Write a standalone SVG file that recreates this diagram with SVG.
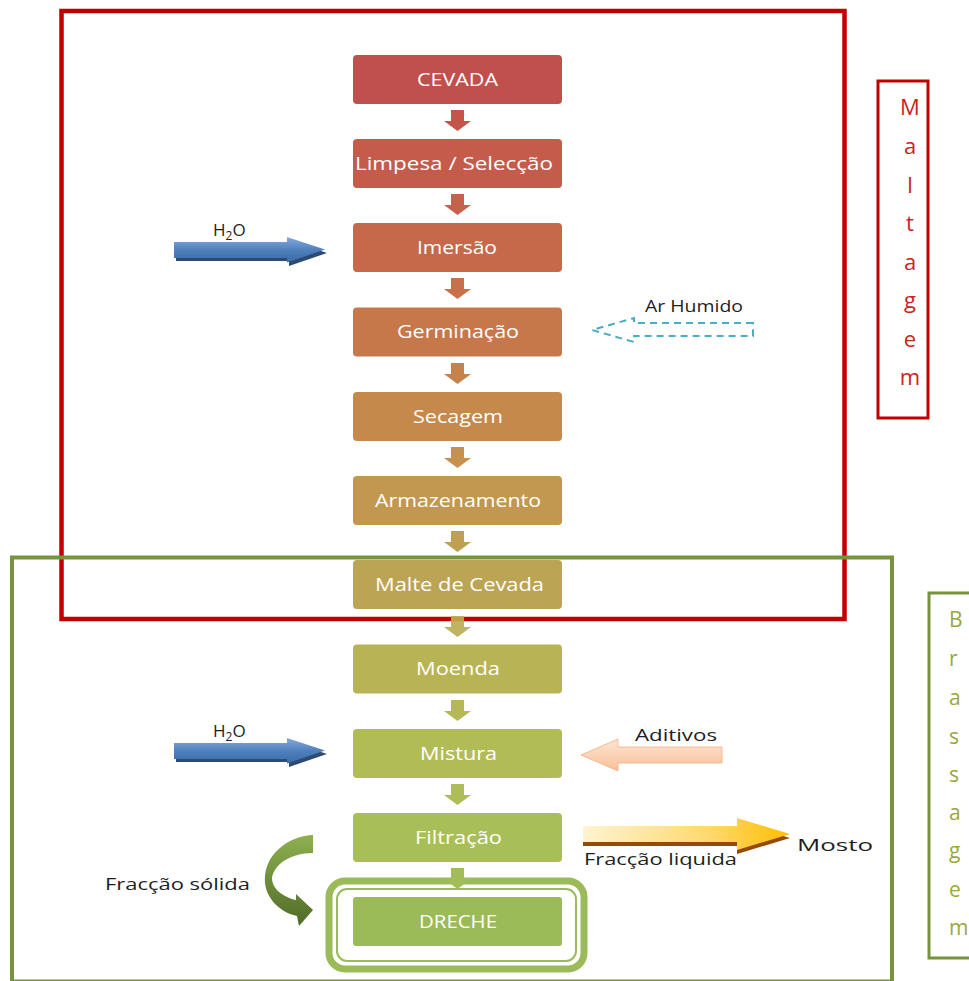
<svg xmlns="http://www.w3.org/2000/svg" width="969" height="981" viewBox="0 0 969 981">
<defs>
<style>
.node text{font-family:"Open Sans","Liberation Sans",sans-serif;font-size:17.5px;fill:#ffffff;text-anchor:middle}
.lbl{font-family:"Open Sans","Liberation Sans",sans-serif;font-size:17px;fill:#1e1e1e}
.vm{font-family:"Open Sans","Liberation Sans",sans-serif;font-size:22px;fill:#cc2222;text-anchor:middle}
.vb{font-family:"Open Sans","Liberation Sans",sans-serif;font-size:21px;fill:#9aa83a}
</style>
<linearGradient id="gBlue" x1="0" y1="0" x2="0" y2="1">
<stop offset="0" stop-color="#86aade"/><stop offset="0.5" stop-color="#4f81bd"/><stop offset="1" stop-color="#3c6aa6"/>
</linearGradient>
<linearGradient id="gPeach" x1="0" y1="0" x2="0" y2="1">
<stop offset="0" stop-color="#fde6d4"/><stop offset="1" stop-color="#f9bf98"/>
</linearGradient>
<linearGradient id="gGold" x1="0" y1="0" x2="1" y2="0">
<stop offset="0" stop-color="#fff4d0"/><stop offset="0.6" stop-color="#ffd970"/><stop offset="1" stop-color="#ffbf00"/>
</linearGradient>
<linearGradient id="gCurve" x1="0" y1="0" x2="0" y2="1">
<stop offset="0" stop-color="#8fb050"/><stop offset="1" stop-color="#4f6b26"/>
</linearGradient>
</defs>

<g id="frames">
<rect id="frame-maltagem" x="61.5" y="11" width="783" height="608" fill="none" stroke="#c00000" stroke-width="4.5"/>
<rect id="frame-brassagem" x="12" y="557.5" width="880" height="424" fill="none" stroke="#77933c" stroke-width="4"/>
</g>

<g id="label-maltagem">
<rect x="878" y="81" width="50" height="337" fill="#ffffff" stroke="#c00000" stroke-width="3"/>
<text class="vm" x="910" y="115">M</text>
<text class="vm" x="910" y="154">a</text>
<text class="vm" x="910" y="193">l</text>
<text class="vm" x="910" y="231">t</text>
<text class="vm" x="910" y="270">a</text>
<text class="vm" x="910" y="308">g</text>
<text class="vm" x="910" y="347">e</text>
<text class="vm" x="910" y="385">m</text>
</g>

<g id="label-brassagem">
<rect x="929" y="593" width="60" height="365" fill="#ffffff" stroke="#77933c" stroke-width="3"/>
<text class="vb" x="949" y="627">B</text>
<text class="vb" x="949" y="666">r</text>
<text class="vb" x="949" y="705">a</text>
<text class="vb" x="949" y="744">s</text>
<text class="vb" x="949" y="782">s</text>
<text class="vb" x="949" y="820">a</text>
<text class="vb" x="949" y="858">g</text>
<text class="vb" x="949" y="897">e</text>
<text class="vb" x="949" y="935">m</text>
</g>

<g id="n-dreche-frame">
<rect x="329" y="881" width="255" height="88" rx="16" fill="#ffffff" stroke="#9bbb59" stroke-width="7"/>
<rect x="337" y="889" width="239" height="72" rx="10" fill="none" stroke="#9bbb59" stroke-width="2"/>
</g>

<g id="connectors">
<path d="M451,110h13v11h7l-13.5,10l-13.5,-10h7z" fill="#c4554b"/>
<path d="M451,194h13v11h7l-13.5,10l-13.5,-10h7z" fill="#c5624b"/>
<path d="M451,278h13v11h7l-13.5,10l-13.5,-10h7z" fill="#c6714b"/>
<path d="M451,363h13v11h7l-13.5,10l-13.5,-10h7z" fill="#c6824b"/>
<path d="M451,447h13v11h7l-13.5,10l-13.5,-10h7z" fill="#c5914d"/>
<path d="M451,531h13v11h7l-13.5,10l-13.5,-10h7z" fill="#bfa052"/>
<path d="M451,616h13v11h7l-13.5,10l-13.5,-10h7z" fill="#bbac54" fill-opacity="0.92"/>
<path d="M451,700h13v11h7l-13.5,10l-13.5,-10h7z" fill="#b6b856"/>
<path d="M451,784h13v11h7l-13.5,10l-13.5,-10h7z" fill="#aebd57"/>
<path d="M451,868h13v11h7l-13.5,10l-13.5,-10h7z" fill="#a1bc58"/>

<g id="arrow-h2o-1">
<path d="M176,245h113v-5l38,13l-38,13v-5h-113z" fill="#2c4a73"/>
<path d="M174,242h113v-5l38,12.5l-38,13v-4.5h-113z" fill="url(#gBlue)"/>
</g>
<g id="arrow-h2o-2">
<path d="M176,746h113v-5l38,13l-38,13v-5h-113z" fill="#2c4a73"/>
<path d="M174,743h113v-5l38,12.5l-38,13v-4.5h-113z" fill="url(#gBlue)"/>
</g>
<path id="arrow-ar" d="M753,323H634v-5l-42,12l42,12v-6h119z" fill="none" stroke="#4bacc6" stroke-width="2" stroke-dasharray="7,5"/>
<path id="arrow-aditivos" d="M722,747H618v-8l-37,16l37,16v-8h104z" fill="url(#gPeach)" stroke="#f6ad80" stroke-width="0.8"/>
<g id="arrow-liquida">
<path d="M583,830h154v-8l53,16l-53,16v-8h-154z" fill="#984807"/>
<path d="M583,826h154v-8l53,16l-53,16v-8h-154z" fill="url(#gGold)"/>
</g>
<path id="arrow-solida" d="M313,835C290,836 267,852 265,876C263,895 278,912 297,916L299,926L313,910L296,894L296,900C283,897 272,889 272,878C274,864 291,853 313,853Z" fill="url(#gCurve)"/>
</g>

<g id="n-cevada" class="node"><rect x="353" y="55" width="209" height="49" rx="4" fill="#c0504d"/><text x="457.5" y="85.5" textLength="81" lengthAdjust="spacingAndGlyphs">CEVADA</text></g>
<g id="n-limpesa" class="node"><rect x="353" y="139" width="209" height="49" rx="4" fill="#c45b4b"/><text x="454" y="169.5" textLength="198" lengthAdjust="spacingAndGlyphs">Limpesa / Selecção</text></g>
<g id="n-imersao" class="node"><rect x="353" y="223" width="209" height="49" rx="4" fill="#c6694b"/><text x="457" y="253.5" textLength="80" lengthAdjust="spacingAndGlyphs">Imersão</text></g>
<g id="n-germinacao" class="node"><rect x="353" y="307.5" width="209" height="49" rx="4" fill="#c6784b"/><text x="458" y="338" textLength="122" lengthAdjust="spacingAndGlyphs">Germinação</text></g>
<g id="n-secagem" class="node"><rect x="353" y="392" width="209" height="49" rx="4" fill="#c6894c"/><text x="458" y="422.5" textLength="90" lengthAdjust="spacingAndGlyphs">Secagem</text></g>
<g id="n-armazenamento" class="node"><rect x="353" y="476" width="209" height="49" rx="4" fill="#c2974f"/><text x="458" y="506.5" textLength="166" lengthAdjust="spacingAndGlyphs">Armazenamento</text></g>
<g id="n-malte" class="node"><rect x="353" y="560" width="209" height="49" rx="4" fill="#bba454"/><text x="459.5" y="590.5" textLength="169" lengthAdjust="spacingAndGlyphs">Malte de Cevada</text></g>
<g id="n-moenda" class="node"><rect x="353" y="644.5" width="209" height="49" rx="4" fill="#b8b455"/><text x="458" y="675" textLength="84" lengthAdjust="spacingAndGlyphs">Moenda</text></g>
<g id="n-mistura" class="node"><rect x="353" y="729" width="209" height="49" rx="4" fill="#b2bc57"/><text x="458.5" y="759.5" textLength="77" lengthAdjust="spacingAndGlyphs">Mistura</text></g>
<g id="n-filtracao" class="node"><rect x="353" y="813" width="209" height="49" rx="4" fill="#a8be58"/><text x="458.5" y="843.5" textLength="87" lengthAdjust="spacingAndGlyphs">Filtração</text></g>
<g id="n-dreche" class="node"><rect x="353" y="897" width="209" height="49" rx="3" fill="#9bbb59"/><text x="458" y="927.5" textLength="78" lengthAdjust="spacingAndGlyphs">DRECHE</text></g>

<g id="labels">
<text class="lbl" x="213" y="236">H<tspan font-size="12" dy="4">2</tspan><tspan dy="-4">O</tspan></text>
<text class="lbl" x="213" y="737">H<tspan font-size="12" dy="4">2</tspan><tspan dy="-4">O</tspan></text>
<text class="lbl" x="645" y="312" textLength="98" lengthAdjust="spacingAndGlyphs">Ar Humido</text>
<text class="lbl" x="635" y="741" textLength="82" lengthAdjust="spacingAndGlyphs">Aditivos</text>
<text class="lbl" x="105" y="890" textLength="145" lengthAdjust="spacingAndGlyphs">Fracção sólida</text>
<text class="lbl" x="584" y="865" font-size="16" textLength="153" lengthAdjust="spacingAndGlyphs">Fracção liquida</text>
<text class="lbl" x="797" y="851" font-size="22" textLength="76" lengthAdjust="spacingAndGlyphs">Mosto</text>
</g>
</svg>
